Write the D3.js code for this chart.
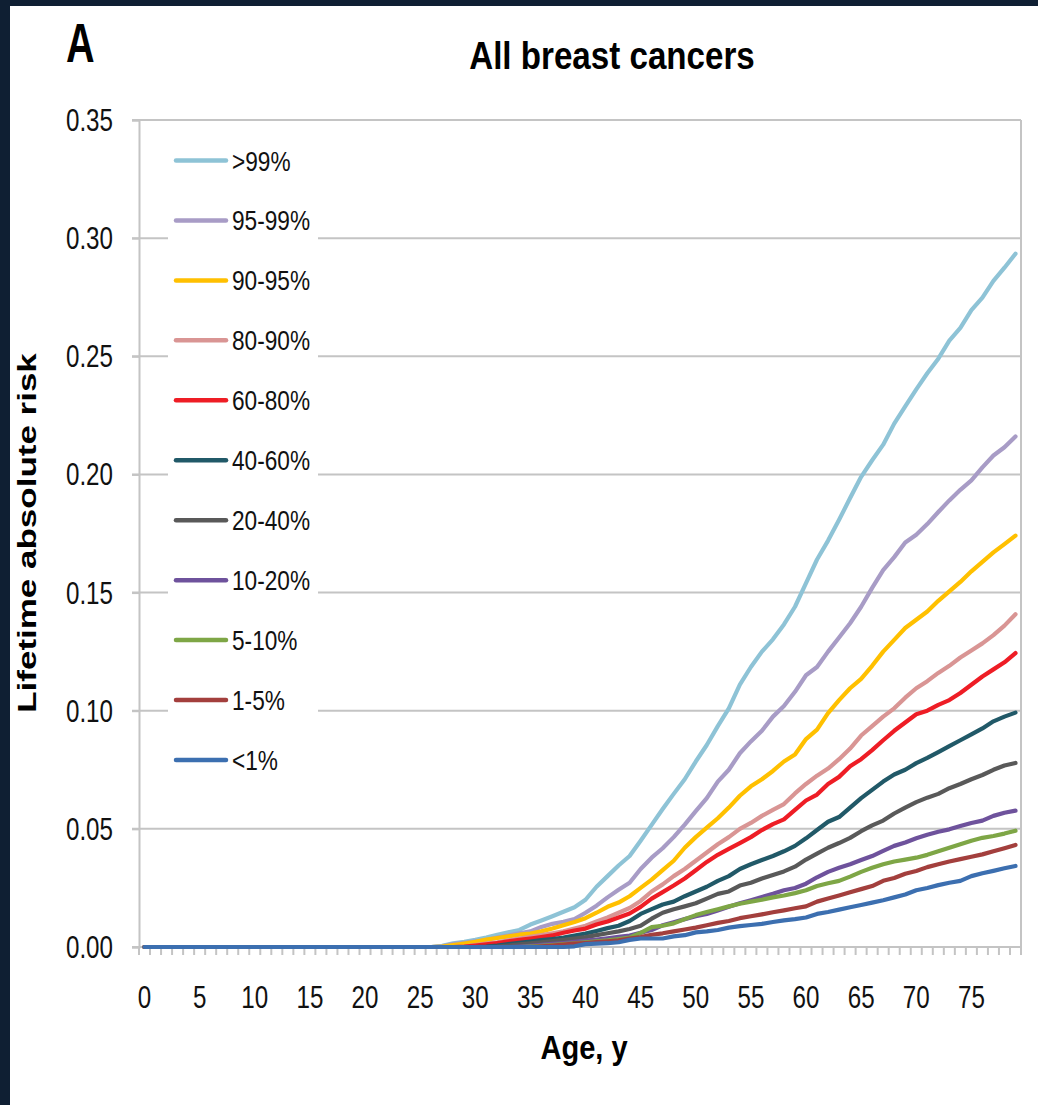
<!DOCTYPE html>
<html>
<head>
<meta charset="utf-8">
<script src="https://cdn.jsdelivr.net/npm/d3@7"></script>
<style>
  html, body { margin: 0; padding: 0; background: #ffffff; }
  svg { display: block; font-family: "Liberation Sans", Arial, sans-serif; }
</style>
</head>
<body>
<svg id="chart" width="1038" height="1105"></svg>
<script>
// Age categories (years)
const ages = [0,1,2,3,4,5,6,7,8,9,10,11,12,13,14,15,16,17,18,19,20,21,22,23,24,25,26,27,28,29,
  30,31,32,33,34,35,36,37,38,39,40,41,42,43,44,45,46,47,48,49,50,51,52,53,54,55,56,57,58,59,
  60,61,62,63,64,65,66,67,68,69,70,71,72,73,74,75,76,77,78,79];

const seriesNames = [">99%", "95-99%", "90-95%", "80-90%", "60-80%", "40-60%", "20-40%", "10-20%", "5-10%", "1-5%", "<1%"];
const seriesColors = ["#8ec3d6", "#a89cc6", "#ffc000", "#d99594", "#ee1d25", "#215968", "#595959", "#6e529c", "#7ea646", "#a33f3d", "#3c6fb0"];

// Lifetime absolute risk by age, one array per percentile group (ages 0-79)
const riskTop1 = [0,0,0,0,0,0,0,0,0,0, 0,0,0,0,0,0,0,0,0,0,
  0,0,0,0,0,0,0,0.0005,0.0016,0.0022,
  0.003,0.004,0.0052,0.0062,0.0072,0.0095,0.0112,0.013,0.0149,0.0168,
  0.02,0.0255,0.03,0.0345,0.0385,0.045,0.0517,0.0584,0.0648,0.071,
  0.0785,0.0855,0.0935,0.101,0.111,0.1185,0.125,0.1302,0.1365,0.144,
  0.154,0.164,0.172,0.1808,0.19,0.199,0.206,0.2126,0.2215,0.2288,
  0.236,0.2428,0.249,0.2566,0.262,0.2695,0.2748,0.2819,0.2875,0.2934];
const risk95to99 = [0,0,0,0,0,0,0,0,0,0, 0,0,0,0,0,0,0,0,0,0,
  0,0,0,0,0,0,0,0.0003,0.0012,0.0018,
  0.0024,0.003,0.004,0.0048,0.0058,0.0066,0.0085,0.0098,0.0107,0.0118,
  0.0145,0.0175,0.021,0.0242,0.0272,0.033,0.0378,0.0418,0.0465,0.0518,
  0.0575,0.063,0.07,0.075,0.082,0.087,0.0915,0.0975,0.102,0.108,
  0.115,0.1185,0.125,0.131,0.137,0.144,0.152,0.1595,0.165,0.1712,
  0.1745,0.179,0.1841,0.189,0.1935,0.1975,0.203,0.208,0.2115,0.2161];
const risk90to95 = [0,0,0,0,0,0,0,0,0,0, 0,0,0,0,0,0,0,0,0,0,
  0,0,0,0,0,0,0,0.0002,0.0008,0.0015,
  0.0022,0.0031,0.0038,0.0045,0.0052,0.0057,0.0066,0.0078,0.0092,0.0106,
  0.0122,0.0145,0.017,0.0188,0.0215,0.025,0.0285,0.0325,0.0365,0.042,
  0.0465,0.0505,0.0545,0.059,0.064,0.068,0.071,0.0745,0.0785,0.0815,
  0.088,0.092,0.099,0.1045,0.1095,0.1135,0.119,0.125,0.13,0.135,
  0.1385,0.142,0.1465,0.1505,0.1545,0.159,0.163,0.167,0.1705,0.1741];
const risk80to90 = [0,0,0,0,0,0,0,0,0,0, 0,0,0,0,0,0,0,0,0,0,
  0,0,0,0,0,0,0,0,0,0.0002,
  0.0008,0.0014,0.002,0.0028,0.0036,0.0043,0.005,0.0058,0.0066,0.0078,
  0.009,0.0108,0.0125,0.0145,0.0165,0.0195,0.0235,0.0265,0.03,0.033,
  0.0365,0.04,0.0435,0.0465,0.05,0.0525,0.0555,0.058,0.0605,0.065,
  0.069,0.0725,0.0755,0.0795,0.084,0.0895,0.0935,0.0975,0.101,0.1055,
  0.1095,0.1125,0.116,0.119,0.1225,0.1255,0.1285,0.132,0.136,0.1408];
const risk60to80 = [0,0,0,0,0,0,0,0,0,0, 0,0,0,0,0,0,0,0,0,0,
  0,0,0,0,0,0,0,0,0,0.0002,
  0.0006,0.0011,0.0017,0.0024,0.003,0.0036,0.0042,0.0049,0.006,0.007,
  0.0078,0.0095,0.0108,0.0125,0.0142,0.017,0.0205,0.0232,0.026,0.029,
  0.0325,0.036,0.039,0.0415,0.044,0.0465,0.0495,0.052,0.054,0.058,
  0.062,0.0645,0.069,0.072,0.0765,0.0795,0.0833,0.0875,0.0915,0.095,
  0.0985,0.1,0.1025,0.1045,0.1075,0.111,0.1145,0.1175,0.1205,0.1244];
const risk40to60 = [0,0,0,0,0,0,0,0,0,0, 0,0,0,0,0,0,0,0,0,0,
  0,0,0,0,0,0,0,0,0,0,
  0,0.0002,0.0006,0.0012,0.0018,0.0023,0.0029,0.0034,0.004,0.0048,
  0.0057,0.0068,0.008,0.009,0.011,0.014,0.016,0.018,0.0192,0.0215,
  0.0235,0.0255,0.028,0.03,0.033,0.035,0.0368,0.0385,0.0405,0.0428,
  0.046,0.0495,0.053,0.055,0.059,0.063,0.0665,0.07,0.073,0.075,
  0.0778,0.08,0.0825,0.085,0.0875,0.09,0.0925,0.0955,0.0975,0.0992];
const risk20to40 = [0,0,0,0,0,0,0,0,0,0, 0,0,0,0,0,0,0,0,0,0,
  0,0,0,0,0,0,0,0,0,0,
  0,0,0.0002,0.0006,0.0011,0.0016,0.002,0.0025,0.003,0.0036,
  0.0042,0.005,0.0058,0.0066,0.0076,0.009,0.012,0.0145,0.016,0.0172,
  0.0185,0.0205,0.0225,0.0235,0.026,0.0272,0.029,0.0305,0.032,0.034,
  0.037,0.0395,0.042,0.044,0.0462,0.049,0.0515,0.0535,0.0565,0.059,
  0.0613,0.0632,0.0648,0.0672,0.069,0.071,0.0728,0.075,0.0768,0.0779];
const risk10to20 = [0,0,0,0,0,0,0,0,0,0, 0,0,0,0,0,0,0,0,0,0,
  0,0,0,0,0,0,0,0,0,0,
  0,0,0,0,0.0002,0.0005,0.0009,0.0013,0.0017,0.0022,
  0.0027,0.0031,0.0037,0.0043,0.0048,0.006,0.0072,0.0092,0.0105,0.0118,
  0.013,0.014,0.0155,0.017,0.0185,0.0198,0.0212,0.0225,0.024,0.025,
  0.0268,0.0295,0.0318,0.0335,0.035,0.0368,0.0385,0.0407,0.0428,0.0442,
  0.046,0.0475,0.0488,0.0498,0.0512,0.0525,0.0535,0.0555,0.0568,0.0577];
const risk5to10 = [0,0,0,0,0,0,0,0,0,0, 0,0,0,0,0,0,0,0,0,0,
  0,0,0,0,0,0,0,0,0,0,
  0,0,0,0,0,0.0002,0.0005,0.0008,0.0012,0.0016,
  0.002,0.0024,0.0028,0.0034,0.004,0.006,0.0084,0.009,0.01,0.0118,
  0.0135,0.0148,0.016,0.0172,0.0183,0.0192,0.02,0.021,0.0218,0.0228,
  0.024,0.0258,0.027,0.028,0.0298,0.0318,0.0335,0.035,0.0362,0.037,
  0.0378,0.039,0.0405,0.042,0.0435,0.045,0.0462,0.047,0.048,0.0492];
const risk1to5 = [0,0,0,0,0,0,0,0,0,0, 0,0,0,0,0,0,0,0,0,0,
  0,0,0,0,0,0,0,0,0,0,
  0,0,0,0,0,0,0.0003,0.0006,0.001,0.0014,
  0.0017,0.0021,0.0024,0.0028,0.0036,0.0042,0.0052,0.0058,0.0066,0.0074,
  0.0082,0.0092,0.0102,0.011,0.0122,0.013,0.0138,0.0147,0.0155,0.0164,
  0.0172,0.0192,0.0205,0.0218,0.0232,0.0245,0.0258,0.028,0.0292,0.031,
  0.0322,0.0338,0.035,0.0362,0.0372,0.0382,0.0392,0.0405,0.0418,0.0432];
const riskBelow1 = [0,0,0,0,0,0,0,0,0,0, 0,0,0,0,0,0,0,0,0,0,
  0,0,0,0,0,0,0,0,0,0,
  0,0,0,0,0,0,0,0,0,0.0003,
  0.0012,0.0014,0.0016,0.002,0.003,0.0036,0.0036,0.0036,0.0045,0.005,
  0.0062,0.0066,0.0072,0.0082,0.0088,0.0093,0.0098,0.0106,0.0113,0.0118,
  0.0125,0.014,0.0148,0.0158,0.0168,0.0178,0.0188,0.0198,0.021,0.0222,
  0.024,0.025,0.0262,0.0272,0.028,0.03,0.0312,0.0322,0.0333,0.0343];

const yTicks = [0, 0.05, 0.10, 0.15, 0.20, 0.25, 0.30, 0.35];
const xTickLabels = [0,5,10,15,20,25,30,35,40,45,50,55,60,65,70,75];

const seriesValues = [riskTop1, risk95to99, risk90to95, risk80to90, risk60to80, risk40to60,
  risk20to40, risk10to20, risk5to10, risk1to5, riskBelow1];
const series = seriesNames.map((name, i) => ({ name, color: seriesColors[i], values: seriesValues[i] }));

const svg = d3.select("#chart");
const W = 1038, H = 1105;
const plot = { left: 139, right: 1021, top: 120, bottom: 947 };

svg.append("rect").attr("width", W).attr("height", H).attr("fill", "#ffffff");
// dark page edge
svg.append("rect").attr("x", 0).attr("y", 0).attr("width", 10).attr("height", H).attr("fill", "#0f1f33");
svg.append("rect").attr("x", 0).attr("y", 0).attr("width", W).attr("height", 6).attr("fill", "#0f1f33");

const x = d3.scaleBand().domain(ages).range([plot.left, plot.right]).paddingInner(0).paddingOuter(0);
const y = d3.scaleLinear().domain([0, 0.35]).range([plot.bottom, plot.top]);
const cx = a => x(a) + x.bandwidth() / 2;

// text helper: horizontally condensed glyphs
function label(g, s, tx, ty, o) {
  return g.append("text")
    .attr("transform", `translate(${tx},${ty}) scale(${o.sx || 1},1)`)
    .attr("text-anchor", o.anchor || "start")
    .attr("font-size", o.size)
    .attr("font-weight", o.weight || "normal")
    .attr("fill", o.fill || "#111")
    .text(s);
}

const gridColor = "#c4c4c4";
// horizontal gridlines
svg.append("g").selectAll("line").data(yTicks.filter(t => t > 0)).join("line")
  .attr("x1", plot.left - 7).attr("x2", plot.right)
  .attr("y1", d => y(d)).attr("y2", d => y(d))
  .attr("stroke", gridColor).attr("stroke-width", 2);

// y axis with outward ticks
const yAxis = svg.append("g").attr("transform", `translate(${plot.left},0)`)
  .call(d3.axisLeft(y).tickValues(yTicks).tickSize(7).tickFormat(d3.format(".2f")).tickPadding(19));
yAxis.select(".domain").attr("stroke", gridColor).attr("stroke-width", 2);
yAxis.selectAll(".tick line").attr("stroke", gridColor).attr("stroke-width", 2);
yAxis.selectAll(".tick text").remove();
yTicks.forEach(t => label(svg, d3.format(".2f")(t), 113, y(t) + 11, { size: 31, sx: 0.78, anchor: "end" }));

// right border of the plot area
svg.append("line").attr("x1", plot.right).attr("x2", plot.right).attr("y1", plot.top).attr("y2", plot.bottom)
  .attr("stroke", gridColor).attr("stroke-width", 2);

// x axis: ticks at every category boundary
const bounds = ages.map(a => x(a)).concat([plot.right]);
svg.append("line").attr("x1", plot.left - 7).attr("x2", plot.right).attr("y1", plot.bottom).attr("y2", plot.bottom)
  .attr("stroke", gridColor).attr("stroke-width", 2);
svg.append("g").selectAll("line").data(bounds).join("line")
  .attr("x1", d => d).attr("x2", d => d).attr("y1", plot.bottom).attr("y2", plot.bottom + 8)
  .attr("stroke", gridColor).attr("stroke-width", 2);
xTickLabels.forEach(a => label(svg, String(a), cx(a), 1008, { size: 31, sx: 0.78, anchor: "middle" }));

// legend panel (sits over the gridlines)
svg.append("rect").attr("x", 168).attr("y", 128).attr("width", 150).attr("height", 662).attr("fill", "#ffffff");
const legend = svg.append("g");
series.forEach((s, i) => {
  const ly = 160.5 + i * 59.95;
  legend.append("line").attr("x1", 176).attr("x2", 226).attr("y1", ly).attr("y2", ly)
    .attr("stroke", s.color).attr("stroke-width", 4.5).attr("stroke-linecap", "round");
  label(legend, s.name, 232, ly + 10, { size: 27, sx: 0.84 });
});

// risk curves, highest group first so the lowest lies on top
const line = d3.line().x((d, i) => cx(ages[i])).y(d => y(d));
svg.append("g").selectAll("path").data(series).join("path")
  .attr("d", d => line(d.values))
  .attr("fill", "none")
  .attr("stroke", d => d.color)
  .attr("stroke-width", 4.2)
  .attr("stroke-linejoin", "round")
  .attr("stroke-linecap", "round");

// titles
label(svg, "A", 66, 62, { size: 55, sx: 0.72, weight: "bold", fill: "#000" });
label(svg, "All breast cancers", 612, 69, { size: 39, sx: 0.85, weight: "bold", anchor: "middle", fill: "#000" });
label(svg, "Age, y", 584, 1059, { size: 33, sx: 0.88, weight: "bold", anchor: "middle", fill: "#000" });
svg.append("text")
  .attr("transform", "translate(27,533) scale(0.74,1) rotate(-90)")
  .attr("text-anchor", "middle").attr("dy", "0.36em")
  .attr("font-size", 35).attr("font-weight", "bold").attr("fill", "#000")
  .text("Lifetime absolute risk");
</script>
</body>
</html>
